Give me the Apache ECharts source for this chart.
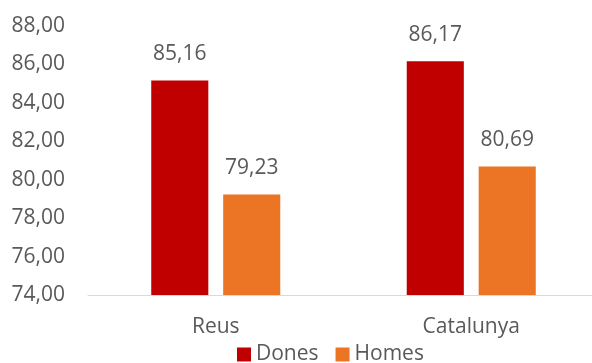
<!DOCTYPE html>
<html>
<head>
<meta charset="utf-8">
<script src="https://cdn.jsdelivr.net/npm/echarts@6/dist/echarts.min.js"></script>
<style>
  html, body { margin: 0; padding: 0; background: #fff; }
  #main { width: 592px; height: 363px; }
</style>
</head>
<body>
<div id="main"></div>
<script>
// dades
const categories = ['Reus', 'Catalunya'];
const dones = [85.16, 86.17];
const homes = [79.23, 80.69];
const yMin = 74, yMax = 88, yStep = 2;

const fmt = v => v.toFixed(2).replace('.', ',');
const font = '"Open Sans", "Noto Sans", sans-serif';
const textColor = '#595959';

const chart = echarts.init(document.getElementById('main'));

const barLabel = {
    show: true,
    position: 'top',
    distance: 16,
    fontFamily: font,
    fontSize: 21,
    color: textColor,
    formatter: p => fmt(p.value)
};

chart.setOption({
    animation: false,
    // la zona del gràfic surt una mica pel marge dret
    grid: { left: 88, width: 511, top: 26, bottom: 68, containLabel: false, outerBoundsMode: 'none' },
    legend: {
        left: 237,
        top: 344,
        padding: 0,
        itemWidth: 14,
        itemHeight: 14,
        itemGap: 17,
        icon: 'rect',
        textStyle: { fontFamily: font, fontSize: 21, lineHeight: 21, color: textColor },
        data: ['Dones', 'Homes']
    },
    xAxis: {
        type: 'category',
        data: categories,
        axisLine: { lineStyle: { color: '#d9d9d9', width: 1 } },
        axisTick: { show: false },
        axisLabel: { fontFamily: font, fontSize: 21, color: textColor, margin: 22 }
    },
    yAxis: {
        type: 'value',
        min: yMin,
        max: yMax,
        interval: yStep,
        splitLine: { show: false },
        axisLine: { show: false },
        axisTick: { show: false },
        axisLabel: { fontFamily: font, fontSize: 21, color: textColor, margin: 23, formatter: v => fmt(v) }
    },
    series: [
        {
            name: 'Dones',
            type: 'bar',
            data: dones,
            barGap: '26%',
            barCategoryGap: '49.5%',
            itemStyle: { color: '#c00000' },
            label: barLabel
        },
        {
            name: 'Homes',
            type: 'bar',
            data: homes,
            itemStyle: { color: '#ec7425' },
            label: barLabel
        }
    ]
});
</script>
</body>
</html>
